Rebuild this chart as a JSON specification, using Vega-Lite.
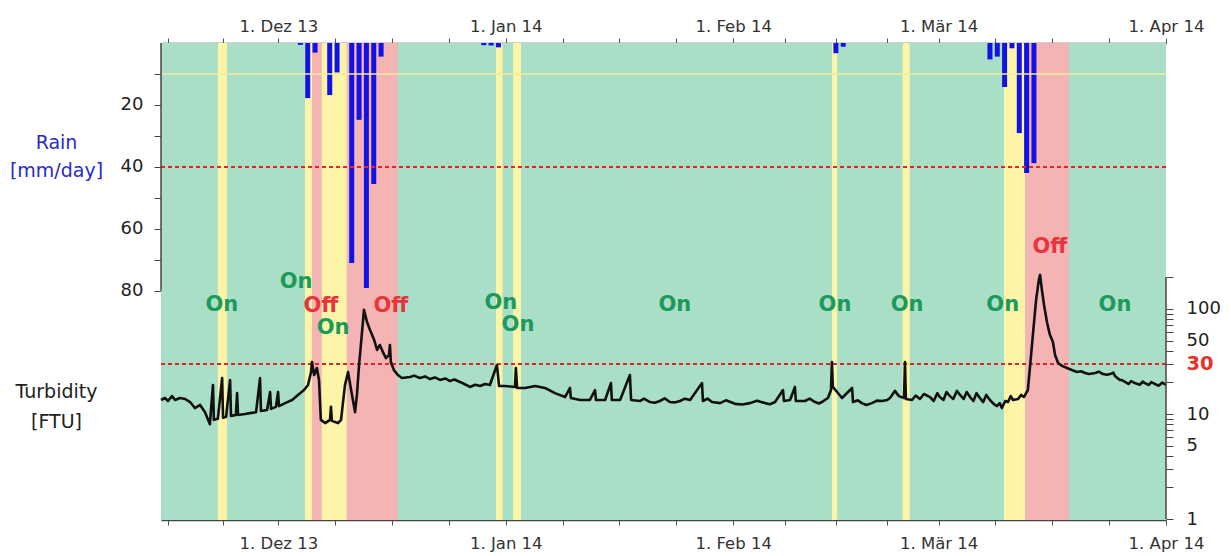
{
  "$schema": "https://vega.github.io/schema/vega-lite/v6.json",
  "width": 1005,
  "height": 477,
  "autosize": {"type": "none"},
  "padding": {"left": 161, "top": 43, "right": 65, "bottom": 36},
  "background": "white",
  "config": {
    "font": "DejaVu Sans",
    "view": {"stroke": null, "fill": "#aadfc7"}
  },
  "datasets": {
    "bands": [
      {"start": "2013-11-15T00:00", "end": "2013-11-22T18:00", "phase": "on"},
      {"start": "2013-11-22T18:00", "end": "2013-11-24T00:00", "phase": "caution"},
      {"start": "2013-11-24T00:00", "end": "2013-12-04T15:00", "phase": "on"},
      {"start": "2013-12-04T15:00", "end": "2013-12-05T14:00", "phase": "caution"},
      {"start": "2013-12-05T14:00", "end": "2013-12-06T22:00", "phase": "off"},
      {"start": "2013-12-06T22:00", "end": "2013-12-10T08:00", "phase": "caution"},
      {"start": "2013-12-10T08:00", "end": "2013-12-17T07:00", "phase": "off"},
      {"start": "2013-12-17T07:00", "end": "2013-12-30T16:00", "phase": "on"},
      {"start": "2013-12-30T16:00", "end": "2013-12-31T14:00", "phase": "caution"},
      {"start": "2013-12-31T14:00", "end": "2014-01-02T00:00", "phase": "on"},
      {"start": "2014-01-02T00:00", "end": "2014-01-03T02:00", "phase": "caution"},
      {"start": "2014-01-03T02:00", "end": "2014-02-14T11:00", "phase": "on"},
      {"start": "2014-02-14T11:00", "end": "2014-02-15T04:00", "phase": "caution"},
      {"start": "2014-02-15T04:00", "end": "2014-02-24T02:00", "phase": "on"},
      {"start": "2014-02-24T02:00", "end": "2014-02-25T02:00", "phase": "caution"},
      {"start": "2014-02-25T02:00", "end": "2014-03-09T22:00", "phase": "on"},
      {"start": "2014-03-09T22:00", "end": "2014-03-12T19:00", "phase": "caution"},
      {"start": "2014-03-12T19:00", "end": "2014-03-18T19:00", "phase": "off"},
      {"start": "2014-03-18T19:00", "end": "2014-04-01T00:00", "phase": "on"}
    ],
    "rain": [
      {"date": "2013-12-04T00:00", "rain": 0.6},
      {"date": "2013-12-05T00:00", "rain": 17.8},
      {"date": "2013-12-06T00:00", "rain": 3.1},
      {"date": "2013-12-08T00:00", "rain": 16.8},
      {"date": "2013-12-09T00:00", "rain": 9.5},
      {"date": "2013-12-11T00:00", "rain": 71.0},
      {"date": "2013-12-12T00:00", "rain": 24.8},
      {"date": "2013-12-13T00:00", "rain": 79.1},
      {"date": "2013-12-14T00:00", "rain": 45.5},
      {"date": "2013-12-15T00:00", "rain": 4.4},
      {"date": "2013-12-29T00:00", "rain": 0.7},
      {"date": "2013-12-30T00:00", "rain": 0.8},
      {"date": "2013-12-31T00:00", "rain": 1.4},
      {"date": "2014-02-15T00:00", "rain": 3.3},
      {"date": "2014-02-16T00:00", "rain": 1.2},
      {"date": "2014-03-08T00:00", "rain": 5.3},
      {"date": "2014-03-09T00:00", "rain": 4.4},
      {"date": "2014-03-10T00:00", "rain": 14.2},
      {"date": "2014-03-11T00:00", "rain": 1.7},
      {"date": "2014-03-12T00:00", "rain": 29.1},
      {"date": "2014-03-13T00:00", "rain": 42.0},
      {"date": "2014-03-14T00:00", "rain": 38.8}
    ],
    "labels": [
      {"date": "2013-11-23T07:00", "level": 84.5, "text": "On", "state": "on"},
      {"date": "2013-12-03T10:00", "level": 77.2, "text": "On", "state": "on"},
      {"date": "2013-12-06T19:00", "level": 84.8, "text": "Off", "state": "off"},
      {"date": "2013-12-08T11:00", "level": 91.9, "text": "On", "state": "on"},
      {"date": "2013-12-16T08:00", "level": 84.8, "text": "Off", "state": "off"},
      {"date": "2013-12-31T08:00", "level": 84.0, "text": "On", "state": "on"},
      {"date": "2014-01-02T16:00", "level": 91.2, "text": "On", "state": "on"},
      {"date": "2014-01-24T01:00", "level": 84.5, "text": "On", "state": "on"},
      {"date": "2014-02-14T21:00", "level": 84.5, "text": "On", "state": "on"},
      {"date": "2014-02-24T17:00", "level": 84.5, "text": "On", "state": "on"},
      {"date": "2014-03-09T18:00", "level": 84.5, "text": "On", "state": "on"},
      {"date": "2014-03-16T04:00", "level": 66.0, "text": "Off", "state": "off"},
      {"date": "2014-03-25T01:00", "level": 84.5, "text": "On", "state": "on"}
    ],
    "turb": [
      {"date": "2013-11-15T00:00", "ftu": 13.6},
      {"date": "2013-11-15T13:00", "ftu": 14.2},
      {"date": "2013-11-15T23:00", "ftu": 13.3},
      {"date": "2013-11-16T12:00", "ftu": 14.8},
      {"date": "2013-11-16T22:00", "ftu": 13.6},
      {"date": "2013-11-17T14:00", "ftu": 14.2},
      {"date": "2013-11-18T07:00", "ftu": 13.9},
      {"date": "2013-11-18T23:00", "ftu": 13.0},
      {"date": "2013-11-19T15:00", "ftu": 11.4},
      {"date": "2013-11-20T08:00", "ftu": 12.2},
      {"date": "2013-11-21T00:00", "ftu": 10.4},
      {"date": "2013-11-21T16:00", "ftu": 8.0},
      {"date": "2013-11-22T02:00", "ftu": 18.9},
      {"date": "2013-11-22T05:00", "ftu": 8.8},
      {"date": "2013-11-22T18:00", "ftu": 9.0},
      {"date": "2013-11-23T08:00", "ftu": 22.0},
      {"date": "2013-11-23T11:00", "ftu": 9.2},
      {"date": "2013-11-23T21:00", "ftu": 9.4},
      {"date": "2013-11-24T10:00", "ftu": 21.1},
      {"date": "2013-11-24T13:00", "ftu": 9.6},
      {"date": "2013-11-25T05:00", "ftu": 9.8},
      {"date": "2013-11-25T09:00", "ftu": 15.8},
      {"date": "2013-11-25T12:00", "ftu": 9.8},
      {"date": "2013-11-26T11:00", "ftu": 10.0},
      {"date": "2013-11-27T03:00", "ftu": 10.2},
      {"date": "2013-11-27T23:00", "ftu": 10.4},
      {"date": "2013-11-28T12:00", "ftu": 22.0},
      {"date": "2013-11-28T15:00", "ftu": 10.7},
      {"date": "2013-11-29T11:00", "ftu": 10.9},
      {"date": "2013-11-29T21:00", "ftu": 16.2},
      {"date": "2013-11-30T00:00", "ftu": 11.2},
      {"date": "2013-11-30T16:00", "ftu": 11.7},
      {"date": "2013-11-30T23:00", "ftu": 16.2},
      {"date": "2013-12-01T02:00", "ftu": 11.9},
      {"date": "2013-12-01T22:00", "ftu": 12.7},
      {"date": "2013-12-02T21:00", "ftu": 13.6},
      {"date": "2013-12-03T16:00", "ftu": 15.2},
      {"date": "2013-12-04T12:00", "ftu": 16.9},
      {"date": "2013-12-05T01:00", "ftu": 18.9},
      {"date": "2013-12-05T11:00", "ftu": 25.1},
      {"date": "2013-12-05T14:00", "ftu": 31.3},
      {"date": "2013-12-05T21:00", "ftu": 23.5},
      {"date": "2013-12-06T06:00", "ftu": 27.4},
      {"date": "2013-12-06T13:00", "ftu": 21.1},
      {"date": "2013-12-06T19:00", "ftu": 8.8},
      {"date": "2013-12-07T09:00", "ftu": 8.2},
      {"date": "2013-12-08T01:00", "ftu": 8.8},
      {"date": "2013-12-08T04:00", "ftu": 11.7},
      {"date": "2013-12-08T07:00", "ftu": 8.6},
      {"date": "2013-12-09T03:00", "ftu": 8.2},
      {"date": "2013-12-09T13:00", "ftu": 8.8},
      {"date": "2013-12-10T02:00", "ftu": 18.9},
      {"date": "2013-12-10T12:00", "ftu": 25.1},
      {"date": "2013-12-10T22:00", "ftu": 16.9},
      {"date": "2013-12-11T11:00", "ftu": 10.4},
      {"date": "2013-12-11T17:00", "ftu": 15.2},
      {"date": "2013-12-12T00:00", "ftu": 29.3},
      {"date": "2013-12-12T06:00", "ftu": 45.4},
      {"date": "2013-12-12T16:00", "ftu": 98},
      {"date": "2013-12-13T02:00", "ftu": 75},
      {"date": "2013-12-13T12:00", "ftu": 63},
      {"date": "2013-12-14T01:00", "ftu": 51},
      {"date": "2013-12-14T11:00", "ftu": 40.7},
      {"date": "2013-12-14T20:00", "ftu": 45.4},
      {"date": "2013-12-15T06:00", "ftu": 38.9},
      {"date": "2013-12-15T16:00", "ftu": 34.1},
      {"date": "2013-12-16T02:00", "ftu": 36.5},
      {"date": "2013-12-16T05:00", "ftu": 45.4},
      {"date": "2013-12-16T08:00", "ftu": 31.3},
      {"date": "2013-12-16T18:00", "ftu": 26.2},
      {"date": "2013-12-17T07:00", "ftu": 23.5},
      {"date": "2013-12-17T20:00", "ftu": 22.0},
      {"date": "2013-12-18T23:00", "ftu": 22.5},
      {"date": "2013-12-19T12:00", "ftu": 23.2},
      {"date": "2013-12-20T07:00", "ftu": 22.0},
      {"date": "2013-12-21T00:00", "ftu": 22.8},
      {"date": "2013-12-21T16:00", "ftu": 21.5},
      {"date": "2013-12-22T08:00", "ftu": 22.3},
      {"date": "2013-12-23T01:00", "ftu": 21.1},
      {"date": "2013-12-23T18:00", "ftu": 21.8},
      {"date": "2013-12-24T09:00", "ftu": 20.6},
      {"date": "2013-12-25T00:00", "ftu": 21.3},
      {"date": "2013-12-25T18:00", "ftu": 20.2},
      {"date": "2013-12-26T10:00", "ftu": 19.2},
      {"date": "2013-12-27T03:00", "ftu": 18.1},
      {"date": "2013-12-27T20:00", "ftu": 19.0},
      {"date": "2013-12-28T12:00", "ftu": 18.5},
      {"date": "2013-12-29T04:00", "ftu": 19.3},
      {"date": "2013-12-29T20:00", "ftu": 18.9},
      {"date": "2013-12-30T19:00", "ftu": 29.3},
      {"date": "2013-12-31T02:00", "ftu": 18.5},
      {"date": "2013-12-31T21:00", "ftu": 18.5},
      {"date": "2014-01-02T06:00", "ftu": 18.1},
      {"date": "2014-01-02T09:00", "ftu": 27.4},
      {"date": "2014-01-02T13:00", "ftu": 17.7},
      {"date": "2014-01-03T15:00", "ftu": 17.7},
      {"date": "2014-01-05T00:00", "ftu": 18.5},
      {"date": "2014-01-06T08:00", "ftu": 17.7},
      {"date": "2014-01-07T17:00", "ftu": 15.8},
      {"date": "2014-01-09T02:00", "ftu": 14.5},
      {"date": "2014-01-09T18:00", "ftu": 17.7},
      {"date": "2014-01-09T21:00", "ftu": 14.2},
      {"date": "2014-01-11T03:00", "ftu": 13.6},
      {"date": "2014-01-12T11:00", "ftu": 13.6},
      {"date": "2014-01-13T04:00", "ftu": 16.9},
      {"date": "2014-01-13T07:00", "ftu": 13.6},
      {"date": "2014-01-14T13:00", "ftu": 13.6},
      {"date": "2014-01-15T08:00", "ftu": 19.7},
      {"date": "2014-01-15T11:00", "ftu": 13.6},
      {"date": "2014-01-16T14:00", "ftu": 13.6},
      {"date": "2014-01-17T22:00", "ftu": 23.5},
      {"date": "2014-01-18T02:00", "ftu": 13.6},
      {"date": "2014-01-19T07:00", "ftu": 13.3},
      {"date": "2014-01-19T20:00", "ftu": 14.0},
      {"date": "2014-01-20T16:00", "ftu": 13.0},
      {"date": "2014-01-21T08:00", "ftu": 12.8},
      {"date": "2014-01-22T00:00", "ftu": 13.3},
      {"date": "2014-01-22T16:00", "ftu": 14.1},
      {"date": "2014-01-23T09:00", "ftu": 13.0},
      {"date": "2014-01-24T00:00", "ftu": 12.9},
      {"date": "2014-01-24T18:00", "ftu": 13.3},
      {"date": "2014-01-25T10:00", "ftu": 14.0},
      {"date": "2014-01-26T03:00", "ftu": 13.6},
      {"date": "2014-01-27T18:00", "ftu": 19.7},
      {"date": "2014-01-27T21:00", "ftu": 13.3},
      {"date": "2014-01-28T12:00", "ftu": 14.0},
      {"date": "2014-01-29T03:00", "ftu": 13.0},
      {"date": "2014-01-30T05:00", "ftu": 12.7},
      {"date": "2014-01-31T00:00", "ftu": 13.5},
      {"date": "2014-02-01T06:00", "ftu": 12.5},
      {"date": "2014-02-02T06:00", "ftu": 12.3},
      {"date": "2014-02-03T07:00", "ftu": 12.7},
      {"date": "2014-02-04T06:00", "ftu": 13.4},
      {"date": "2014-02-05T08:00", "ftu": 12.7},
      {"date": "2014-02-06T00:00", "ftu": 12.4},
      {"date": "2014-02-06T17:00", "ftu": 13.0},
      {"date": "2014-02-07T19:00", "ftu": 16.9},
      {"date": "2014-02-07T22:00", "ftu": 13.3},
      {"date": "2014-02-08T18:00", "ftu": 13.6},
      {"date": "2014-02-09T10:00", "ftu": 18.1},
      {"date": "2014-02-09T13:00", "ftu": 13.3},
      {"date": "2014-02-10T19:00", "ftu": 13.3},
      {"date": "2014-02-11T10:00", "ftu": 14.0},
      {"date": "2014-02-12T04:00", "ftu": 13.0},
      {"date": "2014-02-12T16:00", "ftu": 12.6},
      {"date": "2014-02-13T02:00", "ftu": 13.0},
      {"date": "2014-02-13T22:00", "ftu": 14.2},
      {"date": "2014-02-14T08:00", "ftu": 16.9},
      {"date": "2014-02-14T11:00", "ftu": 31.3},
      {"date": "2014-02-14T14:00", "ftu": 18.1},
      {"date": "2014-02-15T04:00", "ftu": 16.2},
      {"date": "2014-02-15T20:00", "ftu": 14.2},
      {"date": "2014-02-17T05:00", "ftu": 17.7},
      {"date": "2014-02-17T08:00", "ftu": 13.0},
      {"date": "2014-02-18T00:00", "ftu": 13.5},
      {"date": "2014-02-18T13:00", "ftu": 12.7},
      {"date": "2014-02-19T04:00", "ftu": 12.2},
      {"date": "2014-02-19T22:00", "ftu": 12.7},
      {"date": "2014-02-20T14:00", "ftu": 13.4},
      {"date": "2014-02-21T07:00", "ftu": 13.3},
      {"date": "2014-02-22T00:00", "ftu": 13.6},
      {"date": "2014-02-22T09:00", "ftu": 14.2},
      {"date": "2014-02-23T01:00", "ftu": 16.6},
      {"date": "2014-02-23T14:00", "ftu": 14.8},
      {"date": "2014-02-24T07:00", "ftu": 14.2},
      {"date": "2014-02-24T10:00", "ftu": 31.3},
      {"date": "2014-02-24T13:00", "ftu": 13.9},
      {"date": "2014-02-25T09:00", "ftu": 13.6},
      {"date": "2014-02-25T21:00", "ftu": 15.0},
      {"date": "2014-02-26T11:00", "ftu": 13.9},
      {"date": "2014-02-27T00:00", "ftu": 15.5},
      {"date": "2014-02-27T20:00", "ftu": 14.5},
      {"date": "2014-02-28T08:00", "ftu": 13.3},
      {"date": "2014-02-28T20:00", "ftu": 15.8},
      {"date": "2014-03-01T04:00", "ftu": 14.5},
      {"date": "2014-03-01T16:00", "ftu": 13.6},
      {"date": "2014-03-02T02:00", "ftu": 16.2},
      {"date": "2014-03-02T13:00", "ftu": 14.8},
      {"date": "2014-03-03T00:00", "ftu": 13.9},
      {"date": "2014-03-03T12:00", "ftu": 16.6},
      {"date": "2014-03-03T22:00", "ftu": 15.2},
      {"date": "2014-03-04T10:00", "ftu": 13.9},
      {"date": "2014-03-04T20:00", "ftu": 16.2},
      {"date": "2014-03-05T07:00", "ftu": 14.5},
      {"date": "2014-03-05T18:00", "ftu": 13.3},
      {"date": "2014-03-06T04:00", "ftu": 15.8},
      {"date": "2014-03-06T15:00", "ftu": 14.2},
      {"date": "2014-03-07T02:00", "ftu": 13.0},
      {"date": "2014-03-07T12:00", "ftu": 15.2},
      {"date": "2014-03-08T00:00", "ftu": 13.6},
      {"date": "2014-03-08T12:00", "ftu": 12.5},
      {"date": "2014-03-08T23:00", "ftu": 11.9},
      {"date": "2014-03-09T08:00", "ftu": 12.7},
      {"date": "2014-03-09T15:00", "ftu": 11.4},
      {"date": "2014-03-10T02:00", "ftu": 13.3},
      {"date": "2014-03-10T11:00", "ftu": 13.0},
      {"date": "2014-03-10T20:00", "ftu": 14.8},
      {"date": "2014-03-11T03:00", "ftu": 13.6},
      {"date": "2014-03-11T20:00", "ftu": 13.9},
      {"date": "2014-03-12T06:00", "ftu": 15.2},
      {"date": "2014-03-12T15:00", "ftu": 14.5},
      {"date": "2014-03-13T04:00", "ftu": 16.9},
      {"date": "2014-03-13T11:00", "ftu": 28.0},
      {"date": "2014-03-13T21:00", "ftu": 59},
      {"date": "2014-03-14T07:00", "ftu": 122},
      {"date": "2014-03-14T16:00", "ftu": 189},
      {"date": "2014-03-14T20:00", "ftu": 211},
      {"date": "2014-03-15T02:00", "ftu": 152},
      {"date": "2014-03-15T09:00", "ftu": 109},
      {"date": "2014-03-15T19:00", "ftu": 74},
      {"date": "2014-03-16T04:00", "ftu": 57},
      {"date": "2014-03-16T14:00", "ftu": 48.5},
      {"date": "2014-03-16T21:00", "ftu": 36.5},
      {"date": "2014-03-17T07:00", "ftu": 30.6},
      {"date": "2014-03-17T20:00", "ftu": 28.7},
      {"date": "2014-03-18T12:00", "ftu": 27.4},
      {"date": "2014-03-19T04:00", "ftu": 26.2},
      {"date": "2014-03-19T21:00", "ftu": 25.1},
      {"date": "2014-03-20T10:00", "ftu": 25.5},
      {"date": "2014-03-20T23:00", "ftu": 24.6},
      {"date": "2014-03-21T12:00", "ftu": 24.0},
      {"date": "2014-03-22T08:00", "ftu": 24.6},
      {"date": "2014-03-22T20:00", "ftu": 25.3},
      {"date": "2014-03-23T10:00", "ftu": 24.0},
      {"date": "2014-03-23T22:00", "ftu": 23.6},
      {"date": "2014-03-24T09:00", "ftu": 24.0},
      {"date": "2014-03-24T20:00", "ftu": 24.8},
      {"date": "2014-03-25T01:00", "ftu": 23.0},
      {"date": "2014-03-25T17:00", "ftu": 21.1},
      {"date": "2014-03-26T00:00", "ftu": 21.0},
      {"date": "2014-03-26T10:00", "ftu": 20.2},
      {"date": "2014-03-26T22:00", "ftu": 19.3},
      {"date": "2014-03-27T06:00", "ftu": 20.6},
      {"date": "2014-03-27T18:00", "ftu": 19.7},
      {"date": "2014-03-28T10:00", "ftu": 19.0},
      {"date": "2014-03-28T20:00", "ftu": 20.3},
      {"date": "2014-03-29T03:00", "ftu": 19.7},
      {"date": "2014-03-29T16:00", "ftu": 18.9},
      {"date": "2014-03-30T00:00", "ftu": 20.1},
      {"date": "2014-03-30T12:00", "ftu": 19.3},
      {"date": "2014-03-31T00:00", "ftu": 18.6},
      {"date": "2014-03-31T12:00", "ftu": 19.9},
      {"date": "2014-04-01T00:00", "ftu": 18.9}
    ]
  },
  "layer": [
    {
      "data": {"name": "bands"},
      "mark": {"type": "rect"},
      "encoding": {
        "x": {
          "field": "start", "type": "temporal",
          "scale": {"domain": [{"year": 2013, "month": 11, "date": 15}, {"year": 2014, "month": 4, "date": 1}], "padding": 0},
          "axis": {
            "orient": "top", "title": null, "grid": false,
            "values": [
              {"year": 2013, "month": 11, "date": 16}, {"year": 2013, "month": 11, "date": 23, "hours": 12},
              {"year": 2013, "month": 12, "date": 1}, {"year": 2013, "month": 12, "date": 8, "hours": 18},
              {"year": 2013, "month": 12, "date": 16, "hours": 12}, {"year": 2013, "month": 12, "date": 24, "hours": 6},
              {"year": 2014, "month": 1, "date": 1}, {"year": 2014, "month": 1, "date": 8, "hours": 18},
              {"year": 2014, "month": 1, "date": 16, "hours": 12}, {"year": 2014, "month": 1, "date": 24, "hours": 6},
              {"year": 2014, "month": 2, "date": 1}, {"year": 2014, "month": 2, "date": 8},
              {"year": 2014, "month": 2, "date": 15}, {"year": 2014, "month": 2, "date": 22},
              {"year": 2014, "month": 3, "date": 1}, {"year": 2014, "month": 3, "date": 8, "hours": 18},
              {"year": 2014, "month": 3, "date": 16, "hours": 12}, {"year": 2014, "month": 3, "date": 24, "hours": 6},
              {"year": 2014, "month": 4, "date": 1}
            ],
            "labelExpr": "date(datum.value) == 1 && hours(datum.value) == 0 ? '1. ' + ['Jan','Feb','Mär','Apr','Mai','Jun','Jul','Aug','Sep','Okt','Nov','Dez'][month(datum.value)] + ' ' + timeFormat(datum.value, '%y') : ''",
            "labelFontSize": 16.5, "labelColor": "#333333", "labelPadding": 3.5,
            "labelOverlap": false, "labelFlush": false, "labelBound": false,
            "tickSize": 5, "tickColor": "#555555", "domainColor": "#444444", "domainWidth": 1.5
          }
        },
        "x2": {"field": "end"},
        "color": {
          "field": "phase", "type": "nominal",
          "scale": {"domain": ["on", "caution", "off"], "range": ["#aadfc7", "#fcf4a6", "#f4b4b4"]},
          "legend": null
        }
      }
    },
    {
      "data": {"name": "rain"},
      "mark": {"type": "bar", "size": 5, "color": "#1212e4"},
      "encoding": {
        "x": {"field": "date", "type": "temporal", "scale": {"domain": [{"year": 2013, "month": 11, "date": 15}, {"year": 2014, "month": 4, "date": 1}], "padding": 0}, "axis": null},
        "y": {
          "field": "rain", "type": "quantitative",
          "scale": {"domain": [0, 154], "reverse": true, "nice": false, "zero": true},
          "axis": {
            "orient": "left",
            "title": ["Rain", "[mm/day]"], "titleAngle": 0, "titleX": -105, "titleY": 105,
            "titleAlign": "center", "titleBaseline": "alphabetic", "titleFontSize": 19,
            "titleFontWeight": "normal", "titleColor": "#2b2bc4", "titleLineHeight": 28,
            "values": [10, 20, 30, 40, 50, 60, 70, 80],
            "labelExpr": "datum.value % 20 == 0 ? datum.label : ''",
            "labelFontSize": 18, "labelColor": "#222222", "labelPadding": 11,
            "tickSize": 7, "tickColor": "#444444", "domain": false, "grid": false
          }
        }
      }
    },
    {
      "data": {"values": [{"level": 10}]},
      "mark": {"type": "rule", "color": "#f1ec9a", "strokeWidth": 1.5},
      "encoding": {
        "y": {"field": "level", "type": "quantitative", "scale": {"domain": [0, 154], "reverse": true, "nice": false}, "axis": null}
      }
    },
    {
      "data": {"values": [{"level": 40}]},
      "mark": {"type": "rule", "color": "#e3262a", "strokeWidth": 2, "strokeDash": [4, 3]},
      "encoding": {
        "y": {"field": "level", "type": "quantitative", "scale": {"domain": [0, 154], "reverse": true, "nice": false}, "axis": null}
      }
    },
    {
      "data": {"values": [{"date": "2013-11-15T00:00", "from": 0, "to": 80}]},
      "mark": {"type": "rule", "color": "#444444", "strokeWidth": 1.5},
      "encoding": {
        "x": {"field": "date", "type": "temporal", "scale": {"domain": [{"year": 2013, "month": 11, "date": 15}, {"year": 2014, "month": 4, "date": 1}], "padding": 0}, "axis": null},
        "y": {"field": "from", "type": "quantitative", "scale": {"domain": [0, 154], "reverse": true, "nice": false}, "axis": null},
        "y2": {"field": "to"}
      }
    },
    {
      "data": {"name": "labels"},
      "transform": [{"filter": "datum.state == 'on'"}],
      "mark": {"type": "text", "fontSize": 21, "fontWeight": "bold", "color": "#1b9a5c", "align": "center", "baseline": "middle"},
      "encoding": {
        "x": {"field": "date", "type": "temporal", "scale": {"domain": [{"year": 2013, "month": 11, "date": 15}, {"year": 2014, "month": 4, "date": 1}], "padding": 0}, "axis": null},
        "y": {"field": "level", "type": "quantitative", "scale": {"domain": [0, 154], "reverse": true, "nice": false}, "axis": null},
        "text": {"field": "text"}
      }
    },
    {
      "data": {"name": "labels"},
      "transform": [{"filter": "datum.state == 'off'"}],
      "mark": {"type": "text", "fontSize": 21, "fontWeight": "bold", "color": "#e8343c", "align": "center", "baseline": "middle"},
      "encoding": {
        "x": {"field": "date", "type": "temporal", "scale": {"domain": [{"year": 2013, "month": 11, "date": 15}, {"year": 2014, "month": 4, "date": 1}], "padding": 0}, "axis": null},
        "y": {"field": "level", "type": "quantitative", "scale": {"domain": [0, 154], "reverse": true, "nice": false}, "axis": null},
        "text": {"field": "text"}
      }
    },
    {
      "data": {"values": [{"limit": 30}]},
      "mark": {"type": "rule", "color": "#e3262a", "strokeWidth": 2, "strokeDash": [4, 3]},
      "encoding": {
        "y": {"field": "limit", "type": "quantitative", "scale": {"type": "log", "domain": [0.98, 34000], "nice": false}, "axis": null}
      }
    },
    {
      "data": {"name": "turb"},
      "mark": {"type": "line", "color": "#111111", "strokeWidth": 2.6, "strokeJoin": "round"},
      "encoding": {
        "x": {
          "field": "date", "type": "temporal",
          "scale": {"domain": [{"year": 2013, "month": 11, "date": 15}, {"year": 2014, "month": 4, "date": 1}], "padding": 0},
          "axis": {
            "orient": "bottom", "title": null, "grid": false,
            "values": [
              {"year": 2013, "month": 11, "date": 16}, {"year": 2013, "month": 11, "date": 23, "hours": 12},
              {"year": 2013, "month": 12, "date": 1}, {"year": 2013, "month": 12, "date": 8, "hours": 18},
              {"year": 2013, "month": 12, "date": 16, "hours": 12}, {"year": 2013, "month": 12, "date": 24, "hours": 6},
              {"year": 2014, "month": 1, "date": 1}, {"year": 2014, "month": 1, "date": 8, "hours": 18},
              {"year": 2014, "month": 1, "date": 16, "hours": 12}, {"year": 2014, "month": 1, "date": 24, "hours": 6},
              {"year": 2014, "month": 2, "date": 1}, {"year": 2014, "month": 2, "date": 8},
              {"year": 2014, "month": 2, "date": 15}, {"year": 2014, "month": 2, "date": 22},
              {"year": 2014, "month": 3, "date": 1}, {"year": 2014, "month": 3, "date": 8, "hours": 18},
              {"year": 2014, "month": 3, "date": 16, "hours": 12}, {"year": 2014, "month": 3, "date": 24, "hours": 6},
              {"year": 2014, "month": 4, "date": 1}
            ],
            "labelExpr": "date(datum.value) == 1 && hours(datum.value) == 0 ? '1. ' + ['Jan','Feb','Mär','Apr','Mai','Jun','Jul','Aug','Sep','Okt','Nov','Dez'][month(datum.value)] + ' ' + timeFormat(datum.value, '%y') : ''",
            "labelFontSize": 16.5, "labelColor": "#333333", "labelPadding": 10.5,
            "labelOverlap": false, "labelFlush": false, "labelBound": false,
            "tickSize": 5, "tickColor": "#555555", "domainColor": "#444444", "domainWidth": 1.5
          }
        },
        "y": {
          "field": "ftu", "type": "quantitative",
          "scale": {"type": "log", "domain": [0.98, 34000], "nice": false},
          "axis": {
            "orient": "right",
            "title": ["Turbidity", "[FTU]"], "titleAngle": 0, "titleX": -1110, "titleY": 354,
            "titleAlign": "center", "titleBaseline": "alphabetic", "titleFontSize": 19,
            "titleFontWeight": "normal", "titleColor": "#222222", "titleLineHeight": 30,
            "values": [1, 2, 3, 4, 5, 6, 7, 8, 9, 10, 20, 30, 40, 50, 60, 70, 80, 90, 100, 200],
            "labelExpr": "indexof([1, 5, 10, 30, 50, 100], datum.value) >= 0 ? format(datum.value, 'd') : ''",
            "labelFontSize": {"condition": {"test": "datum.value == 30", "value": 19.5}, "value": 18},
            "labelPadding": 13,
            "labelColor": {"condition": {"test": "datum.value == 30", "value": "#e8322a"}, "value": "#222222"},
            "labelFontWeight": {"condition": {"test": "datum.value == 30", "value": "bold"}, "value": "normal"},
            "tickSize": 7, "tickColor": "#444444", "domain": false, "grid": false
          }
        }
      }
    },
    {
      "data": {"values": [{"date": "2014-04-01T00:00", "from": 1, "to": 200}]},
      "mark": {"type": "rule", "color": "#444444", "strokeWidth": 1.5},
      "encoding": {
        "x": {"field": "date", "type": "temporal", "scale": {"domain": [{"year": 2013, "month": 11, "date": 15}, {"year": 2014, "month": 4, "date": 1}], "padding": 0}, "axis": null},
        "y": {"field": "from", "type": "quantitative", "scale": {"type": "log", "domain": [0.98, 34000], "nice": false}, "axis": null},
        "y2": {"field": "to"}
      }
    }
  ],
  "resolve": {"scale": {"y": "independent"}, "axis": {"x": "independent", "y": "independent"}}
}
